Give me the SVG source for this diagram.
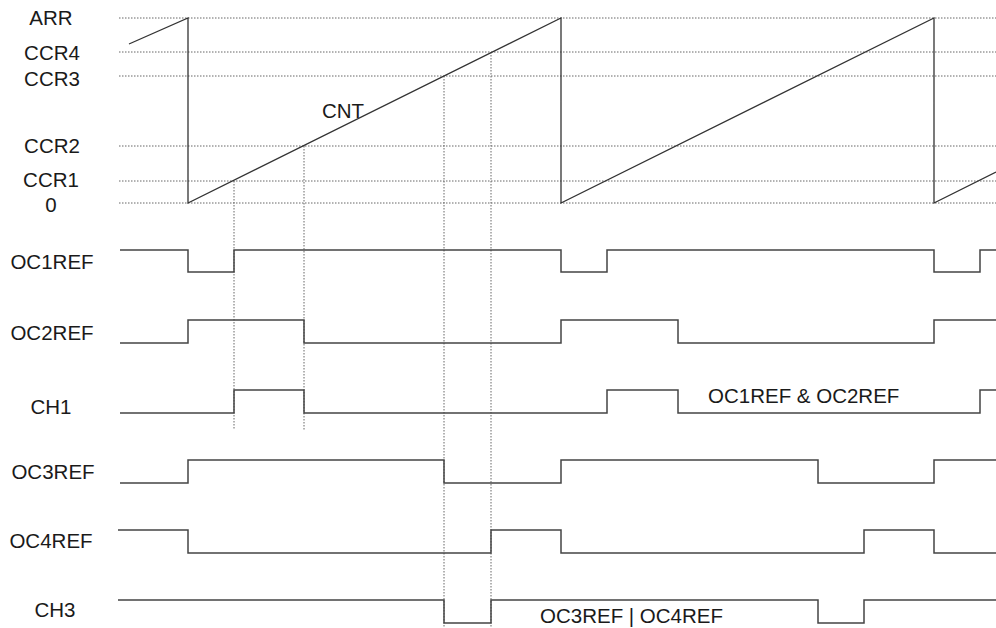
<svg xmlns="http://www.w3.org/2000/svg" width="996" height="628" viewBox="0 0 996 628">
<style>
text{font-family:"Liberation Sans",Arial,sans-serif;font-size:20.5px;fill:#1a1a1a}
.lbl{text-anchor:middle}
.grid{stroke:#666;stroke-width:1;stroke-dasharray:1.5 1.5;fill:none}
.wave{stroke:#444;stroke-width:1.5;fill:none}
.saw{stroke:#333;stroke-width:1.3;fill:none}
</style>
<rect width="996" height="628" fill="#fff"/>
<g id="levels">
<line class="grid" x1="119" y1="18" x2="996" y2="18"/>
<line class="grid" x1="119" y1="52" x2="996" y2="52"/>
<line class="grid" x1="119" y1="76" x2="996" y2="76"/>
<line class="grid" x1="119" y1="146" x2="996" y2="146"/>
<line class="grid" x1="119" y1="181" x2="996" y2="181"/>
<line class="grid" x1="119" y1="203" x2="996" y2="203"/>
</g>
<g id="markers">
<line class="grid" x1="234" y1="181" x2="234" y2="430"/>
<line class="grid" x1="304" y1="146" x2="304" y2="430"/>
<line class="grid" x1="444" y1="76" x2="444" y2="628"/>
<line class="grid" x1="491" y1="52" x2="491" y2="628"/>
</g>
<g id="level-labels">
<text class="lbl" x="51" y="25">ARR</text>
<text class="lbl" x="52" y="60">CCR4</text>
<text class="lbl" x="52" y="86">CCR3</text>
<text class="lbl" x="52" y="153">CCR2</text>
<text class="lbl" x="51" y="187">CCR1</text>
<text class="lbl" x="51" y="212">0</text>
</g>
<g id="cnt">
<polyline class="saw" points="129,44 188,18 188,203 561,18 561,203 934,18 934,203 996,172"/>
<text x="322" y="118">CNT</text>
</g>
<g id="oc1ref">
<text class="lbl" x="52" y="269">OC1REF</text>
<polyline class="wave" points="120,250 188,250 188,272 234,272 234,250 561,250 561,272 607,272 607,250 934,250 934,272 980,272 980,250 996,250"/>
</g>
<g id="oc2ref">
<text class="lbl" x="52" y="340">OC2REF</text>
<polyline class="wave" points="120,343 188,343 188,320 304,320 304,343 561,343 561,320 678,320 678,343 934,343 934,320 996,320"/>
</g>
<g id="ch1">
<text class="lbl" x="51" y="414">CH1</text>
<polyline class="wave" points="120,413 234,413 234,390 304,390 304,413 607,413 607,390 678,390 678,413 980,413 980,390 996,390"/>
<text x="708" y="403">OC1REF &amp; OC2REF</text>
</g>
<g id="oc3ref">
<text class="lbl" x="53" y="479">OC3REF</text>
<polyline class="wave" points="120,483 188,483 188,460 444,460 444,483 561,483 561,460 818,460 818,483 934,483 934,460 996,460"/>
</g>
<g id="oc4ref">
<text class="lbl" x="51" y="548">OC4REF</text>
<polyline class="wave" points="118,530 188,530 188,553 491,553 491,530 561,530 561,553 864,553 864,530 934,530 934,553 996,553"/>
</g>
<g id="ch3">
<text class="lbl" x="55" y="617">CH3</text>
<polyline class="wave" points="118,600 444,600 444,623 491,623 491,600 818,600 818,623 864,623 864,600 996,600"/>
<text x="540" y="623">OC3REF | OC4REF</text>
</g>
</svg>
